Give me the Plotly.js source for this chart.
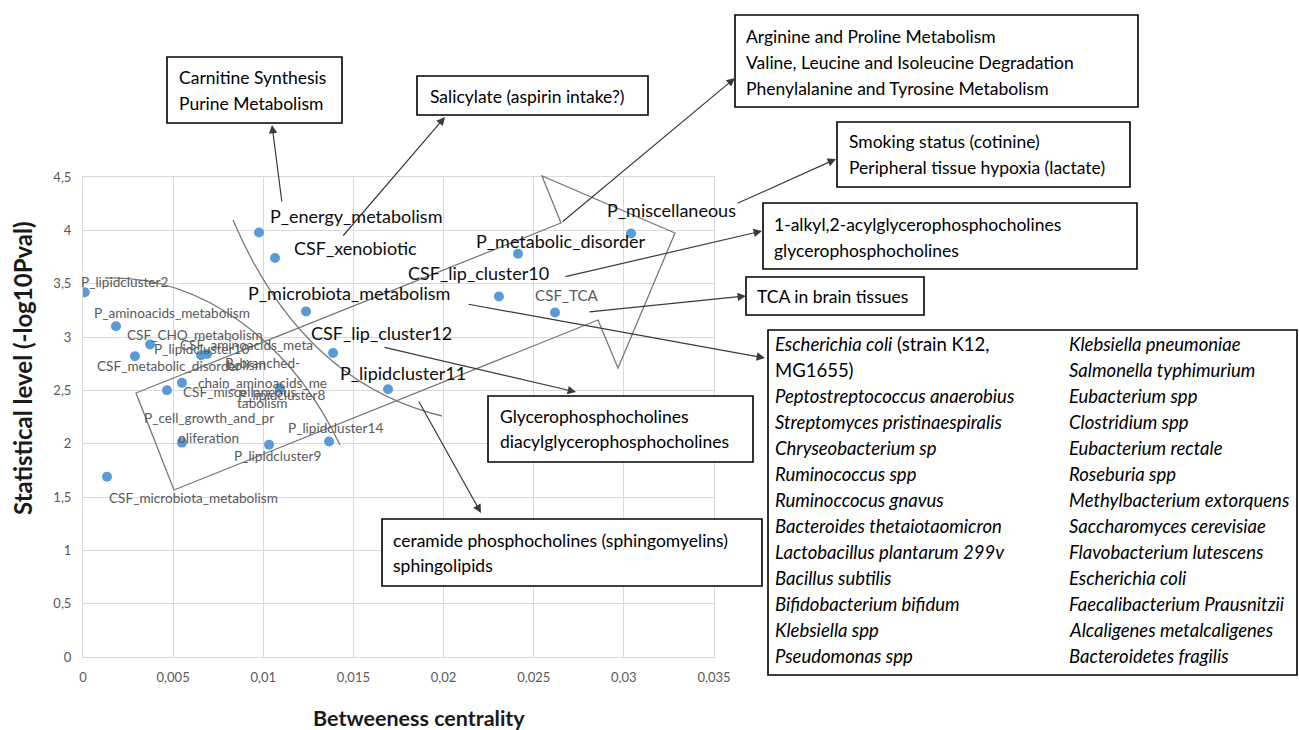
<!DOCTYPE html>
<html>
<head>
<meta charset="utf-8">
<script src="https://cdn.plot.ly/plotly-3.0.1.min.js"></script>
<style>html,body{margin:0;padding:0;background:#fff;}#chart{width:1299px;height:730px;}</style>
</head>
<body>
<div id="chart"></div>
<script>
// ---------- DATA ----------
const names = [
  "P_lipidcluster2", "P_aminoacids_metabolism", "CSF_CHO_metabolism", "CSF_metabolic_disorder",
  "P_lipidcluster10", "CSF_aminoacids_metabolism", "CSF_miscellaneous", "P_lipidcluster8",
  "P_branched-chain_aminoacids_metabolism", "P_cell_growth_and_proliferation", "P_lipidcluster9",
  "P_lipidcluster14", "CSF_microbiota_metabolism", "P_energy_metabolism", "CSF_xenobiotic",
  "P_microbiota_metabolism", "CSF_lip_cluster12", "P_lipidcluster11", "CSF_lip_cluster10",
  "P_metabolic_disorder", "CSF_TCA", "P_miscellaneous"
];
const betweenness = [
  0.0001, 0.00183, 0.00372, 0.00288,
  0.00655, 0.00688, 0.00549, 0.00466,
  0.01093, 0.00549, 0.01032,
  0.01365, 0.00133, 0.00976, 0.01065,
  0.01237, 0.01387, 0.01692, 0.02307,
  0.02413, 0.02618, 0.0304
];
const statLevel = [
  3.42, 3.10, 2.93, 2.82,
  2.83, 2.84, 2.57, 2.50,
  2.52, 2.01, 1.99,
  2.02, 1.69, 3.98, 3.74,
  3.24, 2.85, 2.51, 3.38,
  3.78, 3.23, 3.97
];
const xTickVals = [0, 0.005, 0.01, 0.015, 0.02, 0.025, 0.03, 0.035];
const xTickText = ["0", "0,005", "0,01", "0,015", "0,02", "0,025", "0,03", "0,035"];
const yTickVals = [0, 0.5, 1, 1.5, 2, 2.5, 3, 3.5, 4, 4.5];
const yTickText = ["0", "0,5", "1", "1,5", "2", "2,5", "3", "3,5", "4", "4,5"];

const boxCarnitine = ["Carnitine Synthesis", "Purine Metabolism"];
const boxSalicylate = ["Salicylate (aspirin intake?)"];
const boxAmino = ["Arginine and Proline Metabolism", "Valine, Leucine and Isoleucine Degradation", "Phenylalanine and Tyrosine Metabolism"];
const boxSmoking = ["Smoking status (cotinine)", "Peripheral tissue hypoxia (lactate)"];
const boxAlkyl = ["1-alkyl,2-acylglycerophosphocholines", "glycerophosphocholines"];
const boxTCA = ["TCA in brain tissues"];
const boxGlycero = ["Glycerophosphocholines", "diacylglycerophosphocholines"];
const boxCeramide = ["ceramide phosphocholines (sphingomyelins)", "sphingolipids"];
const bacteriaCol1 = [
  "<i>Escherichia coli</i> (strain K12,", "MG1655)", "<i>Peptostreptococcus anaerobius</i>",
  "<i>Streptomyces pristinaespiralis</i>", "<i>Chryseobacterium sp</i>", "<i>Ruminococcus spp</i>",
  "<i>Ruminoccocus gnavus</i>", "<i>Bacteroides thetaiotaomicron</i>", "<i>Lactobacillus plantarum 299v</i>",
  "<i>Bacillus subtilis</i>", "<i>Bifidobacterium bifidum</i>", "<i>Klebsiella spp</i>", "<i>Pseudomonas spp</i>"
];
const bacteriaCol2 = [
  "<i>Klebsiella pneumoniae</i>", "<i>Salmonella typhimurium</i>", "<i>Eubacterium spp</i>",
  "<i>Clostridium spp</i>", "<i>Eubacterium rectale</i>", "<i>Roseburia spp</i>",
  "<i>Methylbacterium extorquens</i>", "<i>Saccharomyces cerevisiae</i>", "<i>Flavobacterium lutescens</i>",
  "<i>Escherichia coli</i>", "<i>Faecalibacterium Prausnitzii</i>", "<i>Alcaligenes metalcaligenes</i>",
  "<i>Bacteroidetes fragilis</i>"
];

// ---------- LAYOUT HELPERS ----------
const L = 83, R = 714, T = 177, B = 657, W = 1299, H = 730;
const FONT = "Lato, 'Open Sans', sans-serif";
const X = px => (px - L) / (R - L);
const Y = py => (B - py) / (B - T);

// label styles (offset in px from point; dy = centre of first line)
const BIG = {size: 18, color: "#0d0d0d"};
const SMALL = {size: 13.6, color: "#595959"};
const labelStyle = {
  "P_lipidcluster2": {dx: -4, dy: -10, s: SMALL},
  "P_aminoacids_metabolism": {dx: -22, dy: -13, s: SMALL},
  "CSF_CHO_metabolism": {dx: -23, dy: -9, s: SMALL},
  "CSF_metabolic_disorder": {dx: -38, dy: 10, s: SMALL},
  "P_lipidcluster10": {dx: -47, dy: -6, s: SMALL},
  "CSF_aminoacids_metabolism": {dx: 39, dy: -9, s: SMALL, c: true, wrap: ["CSF_aminoacids_meta", "bolism"]},
  "CSF_miscellaneous": {dx: 1, dy: 9, s: SMALL},
  "P_lipidcluster8": {dx: 71, dy: 5, s: SMALL},
  "P_branched-chain_aminoacids_metabolism": {dx: -18, dy: -25, s: SMALL, c: true, wrap: ["P_branched-", "chain_aminoacids_me", "tabolism"]},
  "P_cell_growth_and_proliferation": {dx: 27, dy: -25, s: SMALL, c: true, wrap: ["P_cell_growth_and_pr", "oliferation"]},
  "P_lipidcluster9": {dx: -35, dy: 11, s: SMALL},
  "P_lipidcluster14": {dx: -41, dy: -14, s: SMALL},
  "CSF_microbiota_metabolism": {dx: 2, dy: 21, s: SMALL},
  "P_energy_metabolism": {dx: 11, dy: -16, s: BIG},
  "CSF_xenobiotic": {dx: 19, dy: -10, s: BIG},
  "P_microbiota_metabolism": {dx: -58, dy: -18, s: BIG},
  "CSF_lip_cluster12": {dx: -22, dy: -20, s: BIG},
  "P_lipidcluster11": {dx: -48, dy: -16, s: BIG},
  "CSF_lip_cluster10": {dx: -91, dy: -23, s: BIG},
  "P_metabolic_disorder": {dx: -42, dy: -13, s: BIG},
  "CSF_TCA": {dx: -20, dy: -17, s: {size: 15.2, color: "#595959"}},
  "P_miscellaneous": {dx: -24, dy: -24, s: BIG}
};

const annotations = [];
names.forEach((n, i) => {
  const st = labelStyle[n];
  const lines = st.wrap || [n];
  lines.forEach((ln, k) => {
    annotations.push({
      x: betweenness[i], y: statLevel[i], xref: "x", yref: "y",
      text: ln, showarrow: false,
      xanchor: st.c ? "center" : "left", yanchor: "middle",
      xshift: st.dx, yshift: -(st.dy + k * 20),
      borderpad: 0, borderwidth: 0,
      font: {family: FONT, size: st.s.size, color: st.s.color}
    });
  });
});

// text boxes: rect + lines
const shapes = [];
const BOXFONT = 17.5, BACTFONT = 18.5;
function addBox(lines, x0, y0, x1, y1, tx, ty0, gap, size) {
  shapes.push({type: "rect", xref: "paper", yref: "paper",
    x0: X(x0), x1: X(x1), y0: Y(y1), y1: Y(y0),
    line: {color: "#000", width: 1.6}, fillcolor: "#fff", layer: "above"});
  lines.forEach((t, k) => annotations.push({
    x: X(tx), y: Y(ty0 + k * gap), xref: "paper", yref: "paper",
    text: t, showarrow: false, xanchor: "left", yanchor: "middle",
    borderpad: 0, borderwidth: 0,
    font: {family: FONT, size: size || BOXFONT, color: "#000"}
  }));
}
addBox(boxCarnitine, 167, 57, 342, 123, 179, 77, 26);
addBox(boxSalicylate, 417, 76, 648, 115, 430, 96, 26);
addBox(boxAmino, 735, 15, 1138, 107, 746, 36, 26);
addBox(boxSmoking, 837, 122, 1130, 187, 849, 142, 26);
addBox(boxAlkyl, 763, 203, 1137, 269, 774, 224, 26);
addBox(boxTCA, 746, 277, 924, 315, 757, 296, 26);
addBox(boxGlycero, 488, 396, 753, 462, 500, 416, 25);
addBox(boxCeramide, 382, 519, 762, 586, 393, 540, 25);
addBox(bacteriaCol1, 768, 330, 1297, 675, 775, 344, 26, BACTFONT);
bacteriaCol2.forEach((t, k) => annotations.push({
  x: X(1069), y: Y(344 + k * 26), xref: "paper", yref: "paper",
  text: t, showarrow: false, xanchor: "left", yanchor: "middle",
  borderpad: 0, borderwidth: 0, font: {family: FONT, size: BACTFONT, color: "#000"}
}));

// arrows: [tailX, tailY, headX, headY]
const arrows = [
  [282, 203, 272, 125], [342, 237, 445, 117], [561, 223, 735, 78],
  [736, 204, 836, 159], [564, 277, 762, 231], [588, 312, 746, 296],
  [467, 304, 765, 358], [383, 347, 576, 392], [418, 400, 481, 513]
];
arrows.forEach(a => annotations.push({
  x: X(a[2]), y: Y(a[3]), xref: "paper", yref: "paper",
  ax: a[0] - a[2], ay: a[1] - a[3], text: "", showarrow: true,
  arrowhead: 2, arrowsize: 1.4, arrowwidth: 1.2, arrowcolor: "#3a3a3a", standoff: 0
}));

// freehand outline shapes
const P = (px, py) => X(px).toFixed(5) + "," + Y(py).toFixed(5);
const grey = {color: "#7a7a7a", width: 1.3};
shapes.push({type: "path", xref: "paper", yref: "paper", line: grey,
  path: "M" + P(174, 490) + " L" + P(136, 393) + " L" + P(561, 223) + " L" + P(542, 176) +
        " L" + P(675, 233) + " L" + P(618, 368) + " L" + P(598, 320) + " Z"});
shapes.push({type: "path", xref: "paper", yref: "paper", line: grey,
  path: "M" + P(233, 220) + " Q" + P(302, 382) + " " + P(442, 416)});
shapes.push({type: "path", xref: "paper", yref: "paper", line: grey,
  path: "M" + P(105, 278) + " C" + P(200, 275) + " " + P(290, 340) + " " + P(340, 445)});

// axis titles
annotations.push({x: X(22), y: Y(368), xref: "paper", yref: "paper", text: "<b>Statistical level (-log10Pval)</b>",
  textangle: -90, showarrow: false, xanchor: "center", yanchor: "middle",
  font: {family: FONT, size: 24, color: "#1a1a1a"}});
annotations.push({x: X(419), y: Y(718), xref: "paper", yref: "paper", text: "<b>Betweeness centrality</b>",
  showarrow: false, xanchor: "center", yanchor: "middle",
  font: {family: FONT, size: 21.5, color: "#1a1a1a"}});

const trace = {
  type: "scatter", mode: "markers", x: betweenness, y: statLevel, text: names,
  marker: {color: "#5B9BD5", size: 10}, hoverinfo: "text"
};

const layout = {
  width: W, height: H, showlegend: false,
  margin: {l: L, r: W - R, t: T, b: H - B, pad: 0},
  paper_bgcolor: "#fff", plot_bgcolor: "#fff",
  font: {family: FONT},
  xaxis: {range: [0, 0.035], tickvals: xTickVals, ticktext: xTickText, showgrid: true, gridcolor: "#d9d9d9",
    zeroline: false, showline: true, linecolor: "#d9d9d9", mirror: true, ticks: "", ticklabelstandoff: 8,
    tickfont: {family: FONT, size: 13, color: "#595959"}, fixedrange: true},
  yaxis: {range: [0, 4.5], tickvals: yTickVals, ticktext: yTickText, showgrid: true, gridcolor: "#d9d9d9",
    zeroline: false, showline: true, linecolor: "#d9d9d9", mirror: true, ticks: "", ticklabelstandoff: 8,
    tickfont: {family: FONT, size: 13, color: "#595959"}, fixedrange: true},
  shapes: shapes, annotations: annotations
};
Plotly.newPlot("chart", [trace], layout, {displayModeBar: false, staticPlot: true});
</script>
</body>
</html>
